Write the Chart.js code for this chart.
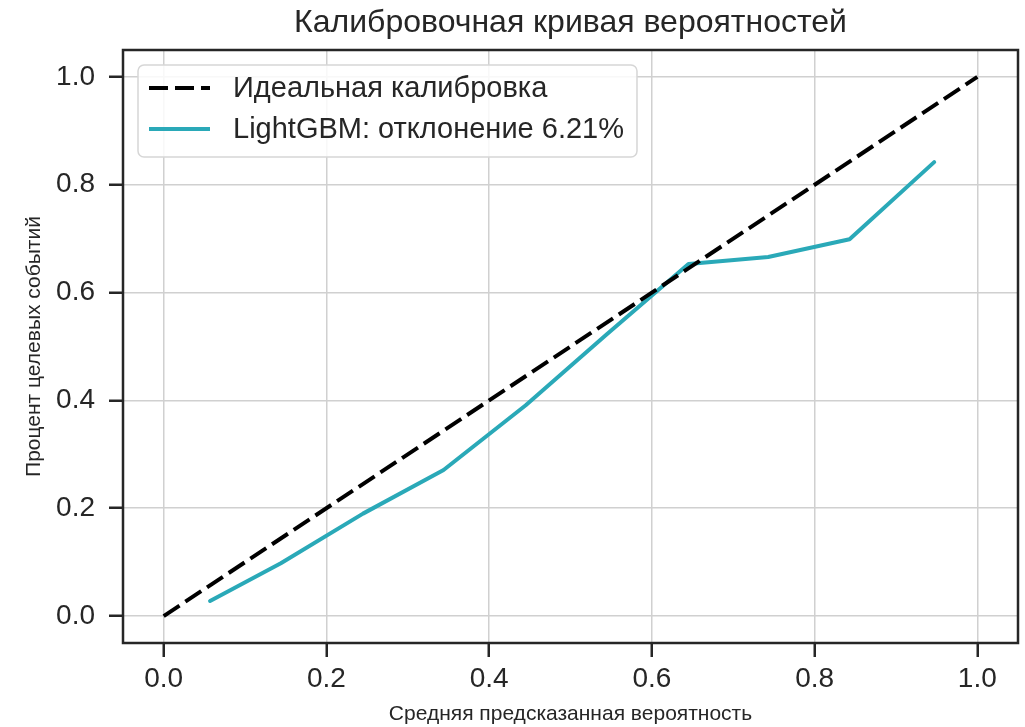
<!DOCTYPE html>
<html>
<head>
<meta charset="utf-8">
<script src="https://cdn.jsdelivr.net/npm/chart.js@4"></script>
<style>
  html, body { margin: 0; padding: 0; background: #ffffff; }
  #wrap { width: 1025px; height: 727px; }
</style>
</head>
<body>
<div id="wrap"><canvas id="chart" width="1025" height="727"></canvas></div>
<script>
// Calibration curve data
const perfectX = [0, 1];
const perfectY = [0, 1];
const meanPredicted = [0.057, 0.144, 0.245, 0.344, 0.445, 0.545, 0.645, 0.743, 0.843, 0.947];
const fractionPositives = [0.028, 0.098, 0.190, 0.271, 0.391, 0.523, 0.653, 0.666, 0.699, 0.842];
const tickValues = [0.0, 0.2, 0.4, 0.6, 0.8, 1.0];

const titleText = 'Калибровочная кривая вероятностей';
const xLabel = 'Средняя предсказанная вероятность';
const yLabel = 'Процент целевых событий';
const perfectLabel = 'Идеальная калибровка';
const modelLabel = 'LightGBM: отклонение 6.21%';

const FAMILY = '"Liberation Sans", Arial, sans-serif';
const INK = '#262626';
const TEAL = '#2aa9b8';

const toPoints = (xs, ys) => xs.map((x, i) => ({ x: x, y: ys[i] }));

// Frame around the plotting area
const framePlugin = {
  id: 'frame',
  afterDatasetsDraw(chart) {
    const { ctx, chartArea: a } = chart;
    ctx.save();
    ctx.strokeStyle = INK;
    ctx.lineWidth = 2.5;
    ctx.strokeRect(a.left, a.top, a.right - a.left, a.bottom - a.top);
    ctx.restore();
  }
};

// Legend drawn inside the upper-left corner of the plot
const boxLegend = {
  id: 'boxLegend',
  afterDraw(chart) {
    const { ctx, chartArea: a } = chart;
    const sets = chart.data.datasets;
    ctx.save();
    ctx.font = '29px ' + FAMILY;
    const textW = Math.max(...sets.map(d => ctx.measureText(d.label).width));
    const x0 = a.left + 15, y0 = a.top + 15;
    const w = 95 + textW + 13, h = 92, r = 6;
    ctx.beginPath();
    ctx.moveTo(x0 + r, y0);
    ctx.arcTo(x0 + w, y0, x0 + w, y0 + h, r);
    ctx.arcTo(x0 + w, y0 + h, x0, y0 + h, r);
    ctx.arcTo(x0, y0 + h, x0, y0, r);
    ctx.arcTo(x0, y0, x0 + w, y0, r);
    ctx.closePath();
    ctx.fillStyle = 'rgba(255,255,255,0.85)';
    ctx.fill();
    ctx.strokeStyle = '#d6d6d6';
    ctx.lineWidth = 1.5;
    ctx.stroke();
    sets.forEach((d, i) => {
      const yc = y0 + 23 + i * 41;
      ctx.beginPath();
      ctx.setLineDash(d.borderDash || []);
      ctx.strokeStyle = d.borderColor;
      ctx.lineWidth = d.borderWidth;
      ctx.lineCap = 'butt';
      ctx.moveTo(x0 + 11, yc);
      ctx.lineTo(x0 + 72, yc);
      ctx.stroke();
      ctx.setLineDash([]);
      ctx.fillStyle = INK;
      ctx.textBaseline = 'middle';
      ctx.textAlign = 'left';
      ctx.fillText(d.label, x0 + 95, yc + 1);
    });
    ctx.restore();
  }
};

const fixedTicks = (axis) => { axis.ticks = tickValues.map(v => ({ value: v })); };

new Chart(document.getElementById('chart'), {
  type: 'scatter',
  data: {
    datasets: [
      {
        label: perfectLabel,
        data: toPoints(perfectX, perfectY),
        showLine: true,
        borderColor: '#000000',
        borderWidth: 4,
        borderDash: [19, 7],
        pointRadius: 0,
        fill: false
      },
      {
        label: modelLabel,
        data: toPoints(meanPredicted, fractionPositives),
        showLine: true,
        borderColor: TEAL,
        borderWidth: 4,
        pointRadius: 0,
        borderJoinStyle: 'round',
        borderCapStyle: 'round',
        fill: false
      }
    ]
  },
  options: {
    responsive: false,
    animation: false,
    layout: { padding: { left: 0, right: 7, top: 0, bottom: 0 } },
    plugins: {
      legend: { display: false },
      tooltip: { enabled: false },
      title: {
        display: true,
        fullSize: false,
        text: titleText,
        color: INK,
        font: { family: FAMILY, size: 32, weight: 'normal' },
        padding: { top: 4, bottom: 7.6 }
      }
    },
    scales: {
      x: {
        type: 'linear',
        min: -0.05,
        max: 1.05,
        afterBuildTicks: fixedTicks,
        afterFit: (s) => { s.height = 84; },
        grid: { color: '#d0d0d0', lineWidth: 1.5, drawTicks: true, tickLength: 14, tickColor: INK, tickWidth: 2.5 },
        border: { display: false },
        ticks: {
          color: INK,
          padding: 5,
          font: { family: FAMILY, size: 28 },
          callback: (v) => Number(v).toFixed(1)
        },
        title: {
          display: true,
          text: xLabel,
          color: INK,
          font: { family: FAMILY, size: 21 },
          padding: { top: 0, bottom: 0.5 }
        }
      },
      y: {
        type: 'linear',
        min: -0.05,
        max: 1.05,
        afterBuildTicks: fixedTicks,
        afterFit: (s) => { s.width = 123; },
        grid: { color: '#d0d0d0', lineWidth: 1.5, drawTicks: true, tickLength: 14, tickColor: INK, tickWidth: 2.5 },
        border: { display: false },
        ticks: {
          color: INK,
          padding: 14,
          font: { family: FAMILY, size: 28 },
          callback: (v) => Number(v).toFixed(1)
        },
        title: {
          display: true,
          text: yLabel,
          color: INK,
          font: { family: FAMILY, size: 21 },
          padding: { top: 21.5, bottom: 0 }
        }
      }
    }
  },
  plugins: [framePlugin, boxLegend]
});
</script>
</body>
</html>
